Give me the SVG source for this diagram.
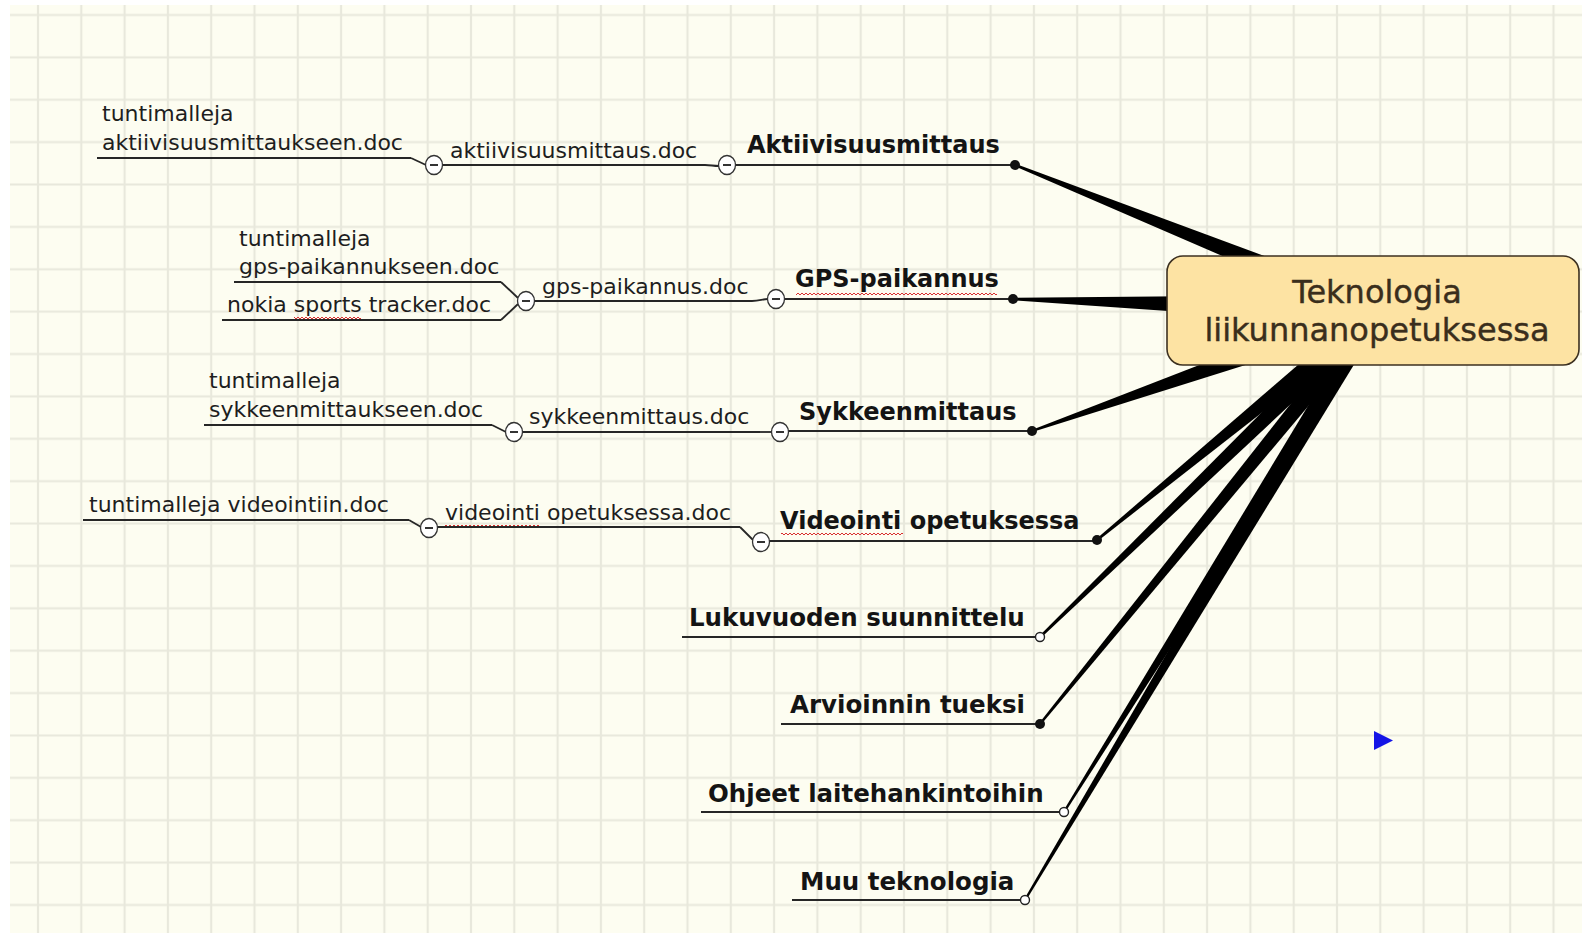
<svg xmlns="http://www.w3.org/2000/svg" xmlns:xlink="http://www.w3.org/1999/xlink" width="1582" height="933" viewBox="0 0 1582 933">
<defs>
<style>
.sub{font-family:"DejaVu Sans",Verdana,sans-serif;font-size:22px;fill:#1e1e1e}
.main{font-family:"DejaVu Sans",Verdana,sans-serif;font-size:24px;font-weight:bold;fill:#141414}
.main2{font-family:"DejaVu Sans",Verdana,sans-serif;font-size:24.5px;font-weight:bold;fill:#141414}
.ctr{font-family:"DejaVu Sans",Verdana,sans-serif;font-size:32px;fill:#3a2e1c;text-anchor:middle;stroke:#3a2e1c;stroke-width:0.4}
.ul{stroke:#262626;stroke-width:1.8;fill:none}
.btn{fill:#fff;stroke:#333;stroke-width:1.3}
.minus{stroke:#333;stroke-width:2}
.dot{fill:#111}
.open{fill:#fff;stroke:#222;stroke-width:1.4}
.wedge{fill:#000}
.sq{fill:url(#sq)}
</style>
<pattern id="grid" x="16.35" y="-6.2" width="43.3" height="42.38" patternUnits="userSpaceOnUse">
<path d="M21.65,0 V42.38 M0,21.19 H43.3" stroke="#e8e8dc" stroke-width="2.2" fill="none"/>
</pattern>
<pattern id="sq" width="4" height="4" patternUnits="userSpaceOnUse">
<path d="M0,3 L2,1 L4,3" fill="none" stroke="#d83030" stroke-width="1"/>
</pattern>
</defs>

<rect x="0" y="0" width="1582" height="933" fill="#ffffff"/>
<rect x="10" y="5" width="1572" height="928" fill="#fdfdf1"/>
<rect x="10" y="5" width="1572" height="928" fill="url(#grid)"/>

<g id="connectors">
<polygon class="wedge" points="1014.55,166.11 1280.75,281.25 1287.45,264.55 1015.45,163.89"/>
<polygon class="wedge" points="1012.96,300.2 1211.6,314 1212.2,296 1013.04,297.8"/>
<polygon class="wedge" points="1032.4,432.1 1265.3,358.7 1259.3,341.7 1031.6,429.9"/>
<polygon class="wedge" points="1097.8,540.9 1350.8,343.2 1339.4,329.2 1096.2,539.1"/>
<polygon class="wedge" points="1040.8,637.9 1359.3,340 1346.7,327 1039.2,636.1"/>
<polygon class="wedge" points="1040.9,724.8 1367.5,335.5 1353.5,324.1 1039.1,723.2"/>
<polygon class="wedge" points="1065,812.6 1374.2,331.2 1359,321.6 1063,811.4"/>
<polygon class="wedge" points="1026,900.6 1374.7,330.8 1359.3,321.6 1024,899.4"/>
<path class="ul" d="M411,158 L426,165"/>
<path class="ul" d="M705,165 C711,165 713,166 719,166"/>
<path class="ul" d="M501,282 L518,298"/>
<path class="ul" d="M501,320 L518,304"/>
<path class="ul" d="M752,301 C760,301 762,299 768,299"/>
<path class="ul" d="M492,425 L506,432"/>
<path class="ul" d="M760,432 C765,432 767,432 772,432"/>
<path class="ul" d="M409,520 L421,527"/>
<path class="ul" d="M740,527 L753,540"/>
</g>

<g id="center">
<rect x="1167" y="256" width="412" height="109" rx="16" fill="#fde3a3" stroke="#3c3020" stroke-width="1.6"/>
<text class="ctr" x="1377" y="303">Teknologia</text>
<text class="ctr" x="1377" y="341">liikunnanopetuksessa</text>
</g>

<g id="n-akt-tunti">
<text class="sub" x="102" y="121">tuntimalleja</text>
<text class="sub" x="102" y="150">aktiivisuusmittaukseen.doc</text>
<path class="ul" d="M97,158 H411"/>
</g>
<g id="n-akt-doc">
<text class="sub" x="450" y="158">aktiivisuusmittaus.doc</text>
<path class="ul" d="M442,165 H705"/>
<ellipse class="btn" cx="434" cy="165" rx="8.5" ry="9.5"/>
<line class="minus" x1="430" y1="165" x2="438" y2="165"/>
</g>
<g id="n-akt">
<text class="main" x="747" y="153">Aktiivisuusmittaus</text>
<path class="ul" d="M736,165 H1015"/>
<ellipse class="btn" cx="727" cy="165" rx="8.5" ry="9.5"/>
<line class="minus" x1="723" y1="165" x2="731" y2="165"/>
<circle class="dot" cx="1015" cy="165" r="5"/>
</g>

<g id="n-gps-tunti">
<text class="sub" x="239" y="246">tuntimalleja</text>
<text class="sub" x="239" y="274">gps-paikannukseen.doc</text>
<path class="ul" d="M234,282 H501"/>
</g>
<g id="n-nokia">
<text class="sub" x="227" y="312">nokia sports tracker.doc</text>
<rect class="sq" x="294" y="316" width="67" height="4"/>
<path class="ul" d="M222,320 H501"/>
</g>
<g id="n-gps-doc">
<text class="sub" x="542" y="294">gps-paikannus.doc</text>
<path class="ul" d="M534,301 H752"/>
<ellipse class="btn" cx="526" cy="301" rx="8.5" ry="9.5"/>
<line class="minus" x1="522" y1="301" x2="530" y2="301"/>
</g>
<g id="n-gps">
<text class="main" x="795" y="287">GPS-paikannus</text>
<rect class="sq" x="796" y="292" width="201" height="4"/>
<path class="ul" d="M784,299 H1013"/>
<ellipse class="btn" cx="776" cy="299" rx="8.5" ry="9.5"/>
<line class="minus" x1="772" y1="299" x2="780" y2="299"/>
<circle class="dot" cx="1013" cy="299" r="5"/>
</g>

<g id="n-syk-tunti">
<text class="sub" x="209" y="388">tuntimalleja</text>
<text class="sub" x="209" y="417">sykkeenmittaukseen.doc</text>
<path class="ul" d="M204,425 H492"/>
</g>
<g id="n-syk-doc">
<text class="sub" x="529" y="424">sykkeenmittaus.doc</text>
<path class="ul" d="M522,432 H760"/>
<ellipse class="btn" cx="514" cy="432" rx="8.5" ry="9.5"/>
<line class="minus" x1="510" y1="432" x2="518" y2="432"/>
</g>
<g id="n-syk">
<text class="main" x="799" y="420">Sykkeenmittaus</text>
<path class="ul" d="M788,431 H1032"/>
<ellipse class="btn" cx="780" cy="432" rx="8.5" ry="9.5"/>
<line class="minus" x1="776" y1="432" x2="784" y2="432"/>
<circle class="dot" cx="1032" cy="431" r="5"/>
</g>

<g id="n-vid-tunti">
<text class="sub" x="89" y="512">tuntimalleja videointiin.doc</text>
<path class="ul" d="M83,520 H409"/>
</g>
<g id="n-vid-doc">
<text class="sub" x="445" y="520">videointi opetuksessa.doc</text>
<rect class="sq" x="445" y="524" width="96" height="4"/>
<path class="ul" d="M437,527 H740"/>
<ellipse class="btn" cx="429" cy="528" rx="8.5" ry="9.5"/>
<line class="minus" x1="425" y1="528" x2="433" y2="528"/>
</g>
<g id="n-vid">
<text class="main" x="780" y="529">Videointi opetuksessa</text>
<rect class="sq" x="781" y="532" width="122" height="4"/>
<path class="ul" d="M769,541 H1097"/>
<ellipse class="btn" cx="761" cy="542" rx="8.5" ry="9.5"/>
<line class="minus" x1="757" y1="542" x2="765" y2="542"/>
<circle class="dot" cx="1097" cy="540" r="5"/>
</g>

<g id="n-luku">
<text class="main2" x="689" y="626">Lukuvuoden suunnittelu</text>
<path class="ul" d="M682,637 H1035"/>
<circle class="open" cx="1040" cy="637" r="4.5"/>
</g>
<g id="n-arv">
<text class="main2" x="790" y="713">Arvioinnin tueksi</text>
<path class="ul" d="M781,724 H1040"/>
<circle class="dot" cx="1040" cy="724" r="5"/>
</g>
<g id="n-ohj">
<text class="main2" x="708" y="802">Ohjeet laitehankintoihin</text>
<path class="ul" d="M701,812 H1059"/>
<circle class="open" cx="1064" cy="812" r="4.5"/>
</g>
<g id="n-muu">
<text class="main2" x="800" y="890">Muu teknologia</text>
<path class="ul" d="M792,900 H1020"/>
<circle class="open" cx="1025" cy="900" r="4.5"/>
</g>

<polygon points="1374,731 1393,740.5 1374,750" fill="#1414e6"/>
</svg>
